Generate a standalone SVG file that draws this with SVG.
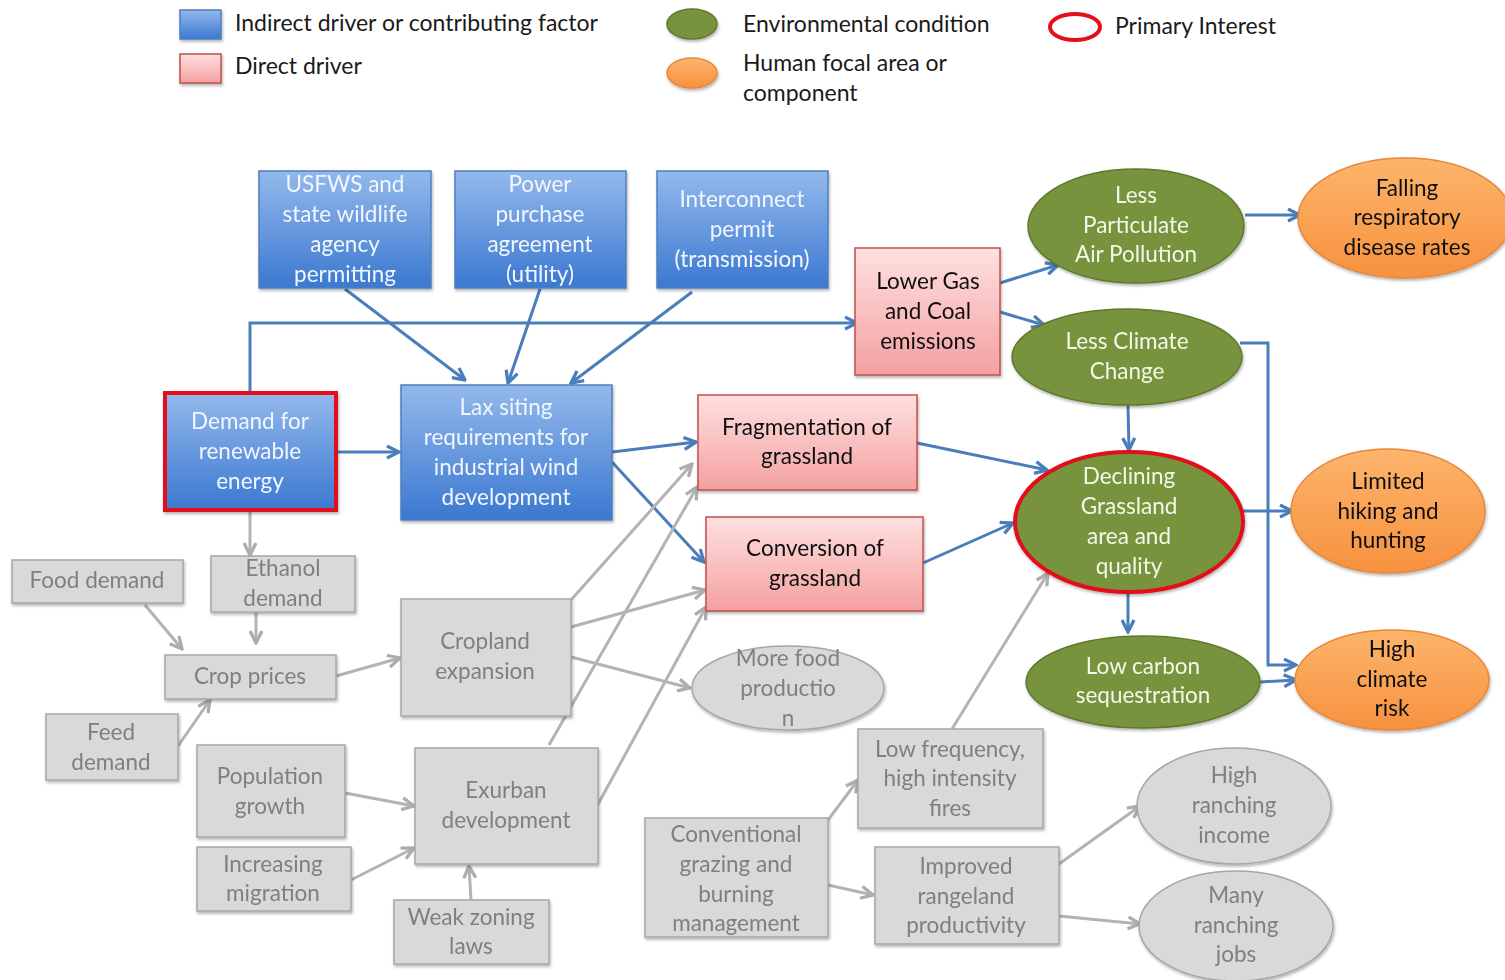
<svg xmlns="http://www.w3.org/2000/svg" width="1505" height="980" viewBox="0 0 1505 980">
<defs>
<linearGradient id="gBlue" x1="0" y1="0" x2="0" y2="1"><stop offset="0" stop-color="#93b9ec"/><stop offset="1" stop-color="#3b78d0"/></linearGradient>
<linearGradient id="gPink" x1="0" y1="0" x2="0" y2="1"><stop offset="0" stop-color="#ffe0e0"/><stop offset="1" stop-color="#f4a0a0"/></linearGradient>
<linearGradient id="gOrange" x1="0" y1="0" x2="0" y2="1"><stop offset="0" stop-color="#fcb56b"/><stop offset="1" stop-color="#f7913f"/></linearGradient>
<filter id="sh" x="-10%" y="-10%" width="125%" height="130%"><feDropShadow dx="1" dy="2" stdDeviation="1.5" flood-color="#000" flood-opacity="0.3"/></filter>
<marker id="aB" viewBox="0 0 10 10" refX="9" refY="5" markerWidth="15" markerHeight="15" markerUnits="userSpaceOnUse" orient="auto"><path d="M1,1 L9,5 L1,9" fill="none" stroke="#4a7ebb" stroke-width="2.2"/></marker>
<marker id="aG" viewBox="0 0 10 10" refX="9" refY="5" markerWidth="15" markerHeight="15" markerUnits="userSpaceOnUse" orient="auto"><path d="M1,1 L9,5 L1,9" fill="none" stroke="#adadad" stroke-width="2.2"/></marker>
<style>
text{font-family:Lato,"Open Sans","Liberation Sans",sans-serif;font-size:22.5px;text-anchor:middle}
.leg{font-size:23px;text-anchor:start;fill:#1a1a1a}
.bl rect{fill:url(#gBlue);stroke:#4f7fbf;stroke-width:1.5}
.bl text{fill:#f2f6ff}
.pk rect{fill:url(#gPink);stroke:#c0504d;stroke-width:1.5}
.pk text{fill:#111}
.gn ellipse{fill:#77933c;stroke:#5e7a2a;stroke-width:1.5}
.gn text{fill:#f4f8e8}
.or ellipse{fill:url(#gOrange);stroke:#e6873a;stroke-width:1.5}
.or text{fill:#111}
.gr rect,.gr ellipse{fill:#d9d9d9;stroke:#a6a6a6;stroke-width:1.5}
.gr text{fill:#7f7f7f}
.prim{stroke:#e3101a!important;stroke-width:4!important}
.cb{fill:none;stroke:#4a7ebb;stroke-width:3;marker-end:url(#aB)}
.cg{fill:none;stroke:#b3b3b3;stroke-width:3;marker-end:url(#aG)}
</style>
</defs>
<rect width="1505" height="980" fill="#fff"/>

<g id="legend">
<rect x="180" y="10" width="41" height="29" fill="url(#gBlue)" stroke="#4f7fbf" stroke-width="1.5" filter="url(#sh)"/>
<text class="leg" x="235" y="31">Indirect driver or contributing factor</text>
<rect x="180" y="54" width="41" height="29" fill="url(#gPink)" stroke="#c0504d" stroke-width="1.5" filter="url(#sh)"/>
<text class="leg" x="235" y="74">Direct driver</text>
<ellipse cx="692" cy="24" rx="25" ry="15" fill="#77933c" stroke="#5e7a2a" stroke-width="1.5" filter="url(#sh)"/>
<text class="leg" x="743" y="32">Environmental condition</text>
<ellipse cx="692" cy="73" rx="25" ry="15" fill="url(#gOrange)" stroke="#e6873a" stroke-width="1.5" filter="url(#sh)"/>
<text class="leg" x="743" y="71">Human focal area or</text>
<text class="leg" x="743" y="101">component</text>
<ellipse cx="1075" cy="27" rx="25" ry="13" fill="none" stroke="#e3101a" stroke-width="4"/>
<text class="leg" x="1115" y="34">Primary Interest</text>
</g>

<g id="connectors">
<path class="cb" d="M345,289 L465,380"/>
<path class="cb" d="M540,289 L508,383"/>
<path class="cb" d="M692,292 L571,383"/>
<path class="cb" d="M250,393 L250,323 L857,323"/>
<path class="cb" d="M337,452 L399,452"/>
<path class="cb" d="M612,452 L696,442"/>
<path class="cb" d="M612,462 L704,562"/>
<path class="cb" d="M1000,283 L1058,265"/>
<path class="cb" d="M1000,312 L1044,325"/>
<path class="cb" d="M1240,343 L1268,343 L1268,665 L1296,665"/>
<path class="cb" d="M1128,405 L1129,450"/>
<path class="cb" d="M917,443 L1047,470"/>
<path class="cb" d="M923,563 L1013,523"/>
<path class="cb" d="M1243,511 L1292,511"/>
<path class="cb" d="M1128,591 L1128,632"/>
<path class="cb" d="M1260,682 L1296,680"/>
<path class="cb" d="M1245,215 L1300,215"/>

<path class="cg" d="M250,511 L250,555"/>
<path class="cg" d="M145,605 L182,649"/>
<path class="cg" d="M256,612 L256,643"/>
<path class="cg" d="M178,746 L210,700"/>
<path class="cg" d="M336,676 L400,658"/>
<path class="cg" d="M571,600 L692,464"/>
<path class="cg" d="M571,627 L705,590"/>
<path class="cg" d="M571,657 L690,688"/>
<path class="cg" d="M549,745 L697,487"/>
<path class="cg" d="M597,806 L706,607"/>
<path class="cg" d="M345,793 L414,806"/>
<path class="cg" d="M351,880 L414,848"/>
<path class="cg" d="M471,900 L469,866"/>
<path class="cg" d="M828,820 L858,780"/>
<path class="cg" d="M828,885 L873,895"/>
<path class="cg" d="M952,729 L1048,573"/>
<path class="cg" d="M1059,864 L1140,806"/>
<path class="cg" d="M1059,916 L1140,924"/>
</g>

<g id="n_usfws" class="bl" filter="url(#sh)"><rect x="259" y="171" width="172" height="117"/>
<text x="345" y="192">USFWS and</text><text x="345" y="222">state wildlife</text><text x="345" y="252">agency</text><text x="345" y="282">permitting</text></g>
<g id="n_power" class="bl" filter="url(#sh)"><rect x="455" y="171" width="171" height="117"/>
<text x="540" y="192">Power</text><text x="540" y="222">purchase</text><text x="540" y="252">agreement</text><text x="540" y="282">(utility)</text></g>
<g id="n_interconnect" class="bl" filter="url(#sh)"><rect x="657" y="171" width="171" height="117"/>
<text x="742" y="207">Interconnect</text><text x="742" y="237">permit</text><text x="742" y="267">(transmission)</text></g>
<g id="n_demand" class="bl" filter="url(#sh)"><rect class="prim" x="165" y="393" width="171" height="117"/>
<text x="250" y="429">Demand for</text><text x="250" y="459">renewable</text><text x="250" y="489">energy</text></g>
<g id="n_lax" class="bl" filter="url(#sh)"><rect x="401" y="385" width="211" height="135"/>
<text x="506" y="415">Lax siting</text><text x="506" y="445">requirements for</text><text x="506" y="475">industrial wind</text><text x="506" y="505">development</text></g>

<g id="n_lowergas" class="pk" filter="url(#sh)"><rect x="855" y="248" width="145" height="127"/>
<text x="928" y="289">Lower Gas</text><text x="928" y="319">and Coal</text><text x="928" y="349">emissions</text></g>
<g id="n_frag" class="pk" filter="url(#sh)"><rect x="698" y="395" width="219" height="95"/>
<text x="807" y="435">Fragmentation of</text><text x="807" y="464">grassland</text></g>
<g id="n_conv" class="pk" filter="url(#sh)"><rect x="706" y="517" width="217" height="94"/>
<text x="815" y="556">Conversion of</text><text x="815" y="586">grassland</text></g>

<g id="n_particulate" class="gn" filter="url(#sh)"><ellipse cx="1136" cy="226" rx="108" ry="57"/>
<text x="1136" y="203">Less</text><text x="1136" y="233">Particulate</text><text x="1136" y="262">Air Pollution</text></g>
<g id="n_climate" class="gn" filter="url(#sh)"><ellipse cx="1127" cy="357" rx="115" ry="48"/>
<text x="1127" y="349">Less Climate</text><text x="1127" y="379">Change</text></g>
<g id="n_declining" class="gn" filter="url(#sh)"><ellipse class="prim" cx="1129" cy="522" rx="114" ry="70"/>
<text x="1129" y="484">Declining</text><text x="1129" y="514">Grassland</text><text x="1129" y="544">area and</text><text x="1129" y="574">quality</text></g>
<g id="n_lowcarbon" class="gn" filter="url(#sh)"><ellipse cx="1143" cy="682" rx="117" ry="46"/>
<text x="1143" y="674">Low carbon</text><text x="1143" y="703">sequestration</text></g>

<g id="n_falling" class="or" filter="url(#sh)"><ellipse cx="1405" cy="218" rx="107" ry="60"/>
<text x="1407" y="196">Falling</text><text x="1407" y="225">respiratory</text><text x="1407" y="255">disease rates</text></g>
<g id="n_limited" class="or" filter="url(#sh)"><ellipse cx="1388" cy="511" rx="97" ry="62"/>
<text x="1388" y="489">Limited</text><text x="1388" y="519">hiking and</text><text x="1388" y="548">hunting</text></g>
<g id="n_highclimate" class="or" filter="url(#sh)"><ellipse cx="1392" cy="680" rx="97" ry="50"/>
<text x="1392" y="657">High</text><text x="1392" y="687">climate</text><text x="1392" y="716">risk</text></g>

<g id="n_food" class="gr" filter="url(#sh)"><rect x="12" y="560" width="171" height="43"/><text x="97" y="588">Food demand</text></g>
<g id="n_ethanol" class="gr" filter="url(#sh)"><rect x="211" y="556" width="144" height="56"/><text x="283" y="576">Ethanol</text><text x="283" y="606">demand</text></g>
<g id="n_crop" class="gr" filter="url(#sh)"><rect x="165" y="655" width="171" height="44"/><text x="250" y="684">Crop prices</text></g>
<g id="n_feed" class="gr" filter="url(#sh)"><rect x="46" y="714" width="132" height="66"/><text x="111" y="740">Feed</text><text x="111" y="770">demand</text></g>
<g id="n_cropland" class="gr" filter="url(#sh)"><rect x="401" y="599" width="170" height="117"/><text x="485" y="649">Cropland</text><text x="485" y="679">expansion</text></g>
<g id="n_morefood" class="gr" filter="url(#sh)"><ellipse cx="788" cy="688" rx="96" ry="42"/><text x="788" y="666">More food</text><text x="788" y="696">productio</text><text x="788" y="726">n</text></g>
<g id="n_population" class="gr" filter="url(#sh)"><rect x="197" y="745" width="148" height="92"/><text x="270" y="784">Population</text><text x="270" y="814">growth</text></g>
<g id="n_migration" class="gr" filter="url(#sh)"><rect x="197" y="847" width="154" height="64"/><text x="273" y="872">Increasing</text><text x="273" y="901">migration</text></g>
<g id="n_exurban" class="gr" filter="url(#sh)"><rect x="415" y="748" width="183" height="116"/><text x="506" y="798">Exurban</text><text x="506" y="828">development</text></g>
<g id="n_zoning" class="gr" filter="url(#sh)"><rect x="394" y="900" width="155" height="64"/><text x="471" y="925">Weak zoning</text><text x="471" y="954">laws</text></g>
<g id="n_conventional" class="gr" filter="url(#sh)"><rect x="645" y="818" width="183" height="119"/><text x="736" y="842">Conventional</text><text x="736" y="872">grazing and</text><text x="736" y="902">burning</text><text x="736" y="931">management</text></g>
<g id="n_fires" class="gr" filter="url(#sh)"><rect x="858" y="729" width="185" height="99"/><text x="950" y="757">Low frequency,</text><text x="950" y="786">high intensity</text><text x="950" y="816">fires</text></g>
<g id="n_rangeland" class="gr" filter="url(#sh)"><rect x="875" y="847" width="184" height="97"/><text x="966" y="874">Improved</text><text x="966" y="904">rangeland</text><text x="966" y="933">productivity</text></g>
<g id="n_income" class="gr" filter="url(#sh)"><ellipse cx="1234" cy="806" rx="97" ry="58"/><text x="1234" y="783">High</text><text x="1234" y="813">ranching</text><text x="1234" y="843">income</text></g>
<g id="n_jobs" class="gr" filter="url(#sh)"><ellipse cx="1236" cy="926" rx="97" ry="55"/><text x="1236" y="903">Many</text><text x="1236" y="933">ranching</text><text x="1236" y="962">jobs</text></g>
</svg>
